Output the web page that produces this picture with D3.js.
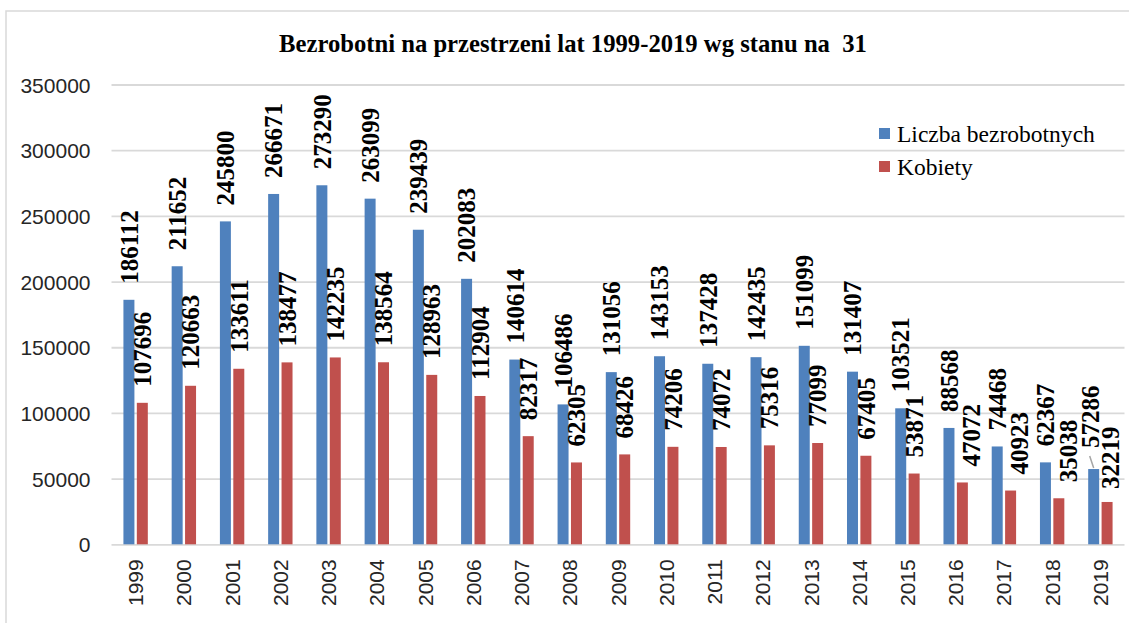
<!DOCTYPE html>
<html><head><meta charset="utf-8">
<script src="https://cdn.jsdelivr.net/npm/d3@7"></script>
<style>
html,body{margin:0;padding:0;background:#fff;}
svg{display:block;}
</style></head>
<body>
<svg id="chart" width="1129" height="623"></svg>
<script>
const titleText = "Bezrobotni na przestrzeni lat 1999-2019 wg stanu na  31";
const years = ["1999","2000","2001","2002","2003","2004","2005","2006","2007","2008","2009","2010","2011","2012","2013","2014","2015","2016","2017","2018","2019"];
const seriesNames = ["Liczba bezrobotnych","Kobiety"];
const totalValues = [186112,211652,245800,266671,273290,263099,239439,202083,140614,106486,131056,143153,137428,142435,151099,131407,103521,88568,74468,62367,57286];
const womenValues = [107696,120663,133611,138477,142235,138564,128963,112904,82317,62305,68426,74206,74072,75316,77099,67405,53871,47072,40923,35038,32219];
const yTicks = [0,50000,100000,150000,200000,250000,300000,350000];

(function(){
const colors = ["#4F81BD","#C0504D"];
const svg = d3.select("#chart");
const pLeft = 111.5, pRight = 1124.5, pTop = 84.5, pBottom = 544.3;

// outer border
svg.append("rect").attr("x",6).attr("y",11).attr("width",1140).attr("height",640)
  .attr("fill","none").attr("stroke","#d9d9d9").attr("stroke-width",1.5);

const x0 = d3.scaleBand().domain(years).range([pLeft,pRight]).padding(0);
const x1 = d3.scaleBand().domain(seriesNames).range([0,x0.bandwidth()]).paddingInner(0.18).paddingOuter(0.89);
const y = d3.scaleLinear().domain([0,350000]).range([pBottom,pTop]);

// gridlines + y labels
const yAxis = d3.axisLeft(y).tickValues(yTicks).tickSize(-(pRight-pLeft)).tickFormat(d=>String(d)).tickPadding(21);
const gy = svg.append("g").attr("transform",`translate(${pLeft},0)`).call(yAxis);
gy.select(".domain").remove();
gy.selectAll(".tick line").attr("stroke","#d9d9d9").attr("stroke-width",1.8);
gy.selectAll(".tick text").attr("font-family","'Liberation Sans', Arial, sans-serif")
  .attr("font-size",21).attr("fill","#262626").attr("dy","0.36em");

// x axis labels
const xAxis = d3.axisBottom(x0).tickSize(0).tickPadding(0);
const gx = svg.append("g").attr("transform",`translate(0,${pBottom})`).call(xAxis);
gx.select(".domain").remove();
gx.selectAll(".tick text").attr("font-family","'Liberation Sans', Arial, sans-serif")
  .attr("font-size",21).attr("fill","#262626")
  .attr("text-anchor","end").attr("y",0).attr("dy","0.36em")
  .attr("transform","translate(0,15) rotate(-90)");

const rows = years.map((yr,i)=>({year:yr, vals:[totalValues[i], womenValues[i]]}));

// label nudges [dx, dy] keyed year -> series index
const nudges = {"2016":{1:[9,0]}, "2017":{1:[9,0]}, "2018":{1:[9,0]}, "2019":{0:[-3,-5],1:[3,3]}};

const g = svg.append("g");
rows.forEach(r=>{
  r.vals.forEach((v,si)=>{
    const bx = x0(r.year)+x1(seriesNames[si]);
    const bw = x1.bandwidth();
    g.append("rect").attr("x",bx).attr("y",y(v)).attr("width",bw).attr("height",y(0)-y(v))
      .attr("fill",colors[si]);
  });
});
rows.forEach(r=>{
  r.vals.forEach((v,si)=>{
    const cx = x0(r.year)+x1(seriesNames[si])+x1.bandwidth()/2;
    const n = (nudges[r.year] && nudges[r.year][si]) || [0,0];
    const lx = cx + n[0], ly = y(v) - 16 + n[1];
    if (n[1] < 0) {
      g.append("line").attr("x1",lx-1).attr("y1",ly+8).attr("x2",cx).attr("y2",y(v)-1)
        .attr("stroke","#a6a6a6").attr("stroke-width",1.5);
    }
    g.append("text").attr("transform",`translate(${lx},${ly}) rotate(-90)`)
      .attr("dy","0.35em").attr("text-anchor","start")
      .attr("font-family","'Liberation Serif','Times New Roman',serif").attr("font-weight","bold")
      .attr("font-size",25).attr("fill","#000").text(String(v));
  });
});

function fit(sel, target){
  const n = sel.node();
  const base = parseFloat(sel.attr("font-size"));
  const w = n.getComputedTextLength();
  if (w > 0) sel.attr("font-size", base*target/w);
}

// title
const t = svg.append("text").attr("x",573).attr("y",52).attr("text-anchor","middle")
  .attr("font-family","'Liberation Serif','Times New Roman',serif").attr("font-weight","bold")
  .attr("font-size",20).attr("fill","#000").style("white-space","pre").text(titleText);
fit(t, 588);

// legend
const lg = svg.append("g");
const legendY = [142,175];
let legFont = 20;
seriesNames.forEach((s,i)=>{
  lg.append("rect").attr("x",879).attr("y",legendY[i]-14).attr("width",11).attr("height",11).attr("fill",colors[i]);
  const tx = lg.append("text").attr("x",897).attr("y",legendY[i])
    .attr("font-family","'Liberation Serif','Times New Roman',serif")
    .attr("font-size",20).attr("fill","#000").text(s);
  if(i===0){ fit(tx,198); legFont = tx.attr("font-size"); } else { tx.attr("font-size",legFont); }
});
})();
</script>
</body></html>
